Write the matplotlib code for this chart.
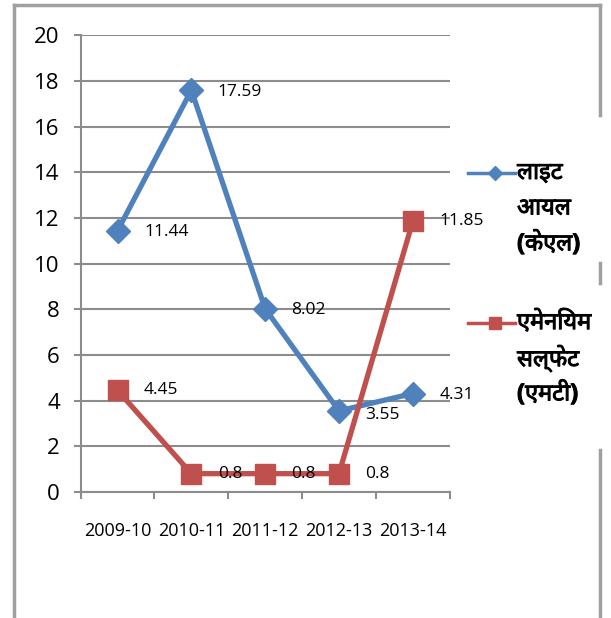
import matplotlib.pyplot as plt
import matplotlib.patheffects as pe
from matplotlib.lines import Line2D
import numpy as np

plt.rcParams['font.family'] = ['Open Sans', 'Noto Sans', 'DejaVu Sans']

years = ["2009-10", "2010-11", "2011-12", "2012-13", "2013-14"]
light_oil = [11.44, 17.59, 8.02, 3.55, 4.31]
ammonium_sulphate = [4.45, 0.8, 0.8, 0.8, 11.85]
series_names = ["लाइट\nआयल\n(केएल)", "एमेनियम\nसल्फेट\n(एमटी)"]

blue = "#4F81BD"
red = "#C0504D"
grid_gray = "#8C8C8C"

fig = plt.figure(figsize=(6.11, 6.18), dpi=100)
ax = fig.add_axes([0.132, 0.204, 0.604, 0.739])

x = np.arange(len(years))
ax.plot(x, light_oil, color=blue, lw=3.8, marker="D", ms=12, zorder=3)
ax.plot(x, ammonium_sulphate, color=red, lw=3.8, marker="s", ms=14, zorder=3)

# data labels
for xi, v in zip(x, light_oil):
    dy = -2 if v == 3.55 else 0
    ax.annotate(f"{v:g}", (xi, v), xytext=(19, dy - 1), textcoords="offset points",
                ha="left", va="center", fontsize=12.5)
for xi, v in zip(x, ammonium_sulphate):
    ax.annotate(f"{v:g}", (xi, v), xytext=(19, 0), textcoords="offset points",
                ha="left", va="center", fontsize=12.5)

ax.set_xlim(-0.5, len(years) - 0.5)
ax.set_ylim(0, 20)
ax.set_yticks(range(0, 21, 2))
ax.set_xticks(np.arange(-0.5, len(years), 1.0), minor=False)
ax.set_xticklabels([])
ax.set_xticks(x, minor=True)
ax.set_xticklabels(years, minor=True, fontsize=13)
ax.tick_params(axis="x", which="minor", length=0, pad=22)
ax.tick_params(axis="x", which="major", length=5, color=grid_gray, width=1.5)
ax.tick_params(axis="y", length=5, color=grid_gray, width=1.5, labelsize=16, pad=10)

ax.yaxis.grid(True, color=grid_gray, lw=1.5)
ax.set_axisbelow(True)
for side in ["top", "right"]:
    ax.spines[side].set_visible(False)
for side in ["left", "bottom"]:
    ax.spines[side].set_color(grid_gray)
    ax.spines[side].set_linewidth(1.5)

# legend drawn to the right of the plot
W, H = 611, 618
entries = [(blue, "D", 7, 173), (red, "s", 9, 323)]
bold = [pe.withStroke(linewidth=0.7, foreground="black")]
for (col, mk, ms, ypix), name in zip(entries, series_names):
    yf = 1 - ypix / H
    fig.add_artist(Line2D([468 / W, 515 / W], [yf, yf], color=col, lw=2.5))
    fig.add_artist(Line2D([495 / W], [yf], color=col, marker=mk, ms=ms, lw=0))
    for i, line in enumerate(name.split("\n")):
        fig.text(517 / W, 1 - (ypix + i * 35.5) / H, line, ha="left", va="center",
                 fontsize=17, fontweight="bold", path_effects=bold)

# chart border
bc = "#A0A0A0"
fig.add_artist(Line2D([14 / W, 14 / W], [0, 1 - 5 / H], color=bc, lw=2.5))
fig.add_artist(Line2D([14 / W, 600 / W], [1 - 5 / H, 1 - 5 / H], color=bc, lw=2.5))
fig.add_artist(Line2D([600 / W, 600 / W], [1 - 5 / H, 1 - 115 / H], color=bc, lw=2.5))
fig.add_artist(Line2D([600 / W, 600 / W], [1 - 263 / H, 1 - 283 / H], color=bc, lw=2.5))
fig.add_artist(Line2D([600 / W, 600 / W], [1 - 450 / H, 0], color=bc, lw=2.5))

fig.savefig("out.png", dpi=100)
